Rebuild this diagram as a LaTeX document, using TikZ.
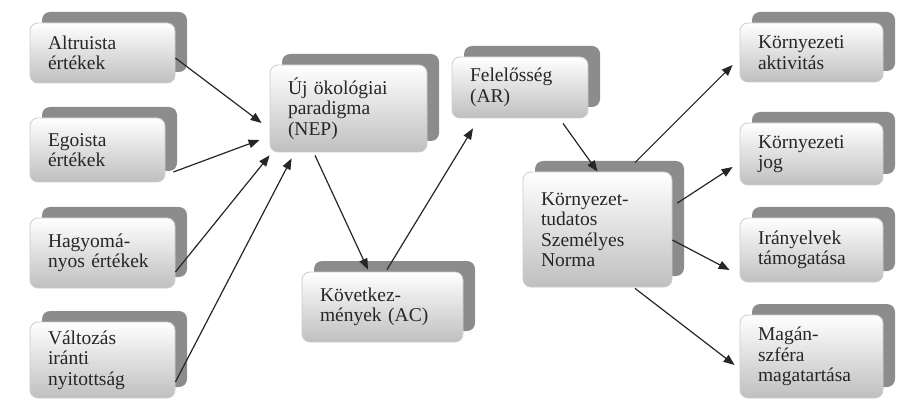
\documentclass[tikz,border=0pt]{standalone}
\usepackage{fontspec}
\setmainfont{Liberation Serif}
\usetikzlibrary{arrows.meta,shadows}
\begin{document}
\begin{tikzpicture}[x=1pt,y=-1pt,
    box/.style={rectangle,rounded corners=8pt,draw=black!20,line width=0.8pt,
      top color=white,bottom color=black!25,
      drop shadow={shadow xshift=12pt,shadow yshift=11pt,fill=black!45,opacity=1},
      inner xsep=18pt,inner ysep=0pt,align=left,text=black!85,
      font=\fontsize{19.5}{20.5}\selectfont}]
      \useasboundingbox (0,0) rectangle (909,403);
      \draw
        (102.5,53) node[box,text width=109pt,minimum height=60pt] (alt){Altruista\\értékek}
        (97.5,150) node[box,text width=99pt,minimum height=64pt] (ego){Egoista\\értékek}
        (102.5,253) node[box,text width=109pt,minimum height=70pt] (hag){Hagyomá-\\nyos értékek}
        (102.5,360) node[box,text width=109pt,minimum height=76pt] (val){Változás\\iránti\\nyitottság}
        (348.5,108.5) node[box,text width=121pt,minimum height=87pt] (nep){Új ökológiai\\paradigma\\(NEP)}
        (382.5,307) node[box,text width=125pt,minimum height=70pt] (kov){Következ-\\mények (AC)}
        (520,87.5) node[box,text width=100pt,minimum height=61pt] (fel){Felelősség\\(AR)}
        (597.5,229.5) node[box,text width=113pt,minimum height=115pt] (ktsz){Környezet-\\tudatos\\Személyes\\Norma}
        (811.5,52.5) node[box,text width=107pt,minimum height=59pt] (akt){Környezeti\\aktivitás}
        (811.5,154) node[box,text width=107pt,minimum height=62pt] (jog){Környezeti\\jog}
        (811.5,250) node[box,text width=107pt,minimum height=64pt] (ira){Irányelvek\\támogatása}
        (811.5,356.5) node[box,text width=107pt,minimum height=83pt] (mag){Magán-\\szféra\\magatartása};
      \begin{scope}[-{Triangle[length=11pt,width=8.5pt]},line width=1.2pt,draw=black!85]
        \draw ([shift={(0,5)}]alt.east) to ([shift={(-8,14.5)}]nep.west);
        \draw ([shift={(8,22)}]ego.east) to ([shift={(-10,31.5)}]nep.west);
        \draw ([shift={(0,19)}]hag.east) to ([shift={(0,3)}]nep.south west);
        \draw ([shift={(0,22)}]val.east) to ([shift={(22,6)}]nep.south west);
        \draw ([shift={(-33.5,3)}]nep.south) to ([shift={(-14.5,-2)}]kov.north);
        \draw ([shift={(4.5,-2)}]kov.north) to ([shift={(-47,10)}]fel.south);
        \draw ([shift={(43,5)}]fel.south) to (ktsz.north);
        \draw ([shift={(37.5,-9)}]ktsz.north) to ([shift={(-7,12.5)}]akt.west);
        \draw ([shift={(5,-26.5)}]ktsz.east) to ([shift={(-7,13)}]jog.west);
        \draw ([shift={(0,10.5)}]ktsz.east) to ([shift={(-10,20)}]ira.west);
        \draw ([shift={(37.5,1)}]ktsz.south) to ([shift={(-5,8.5)}]mag.west);
      \end{scope}
    \end{tikzpicture}
\end{document}
